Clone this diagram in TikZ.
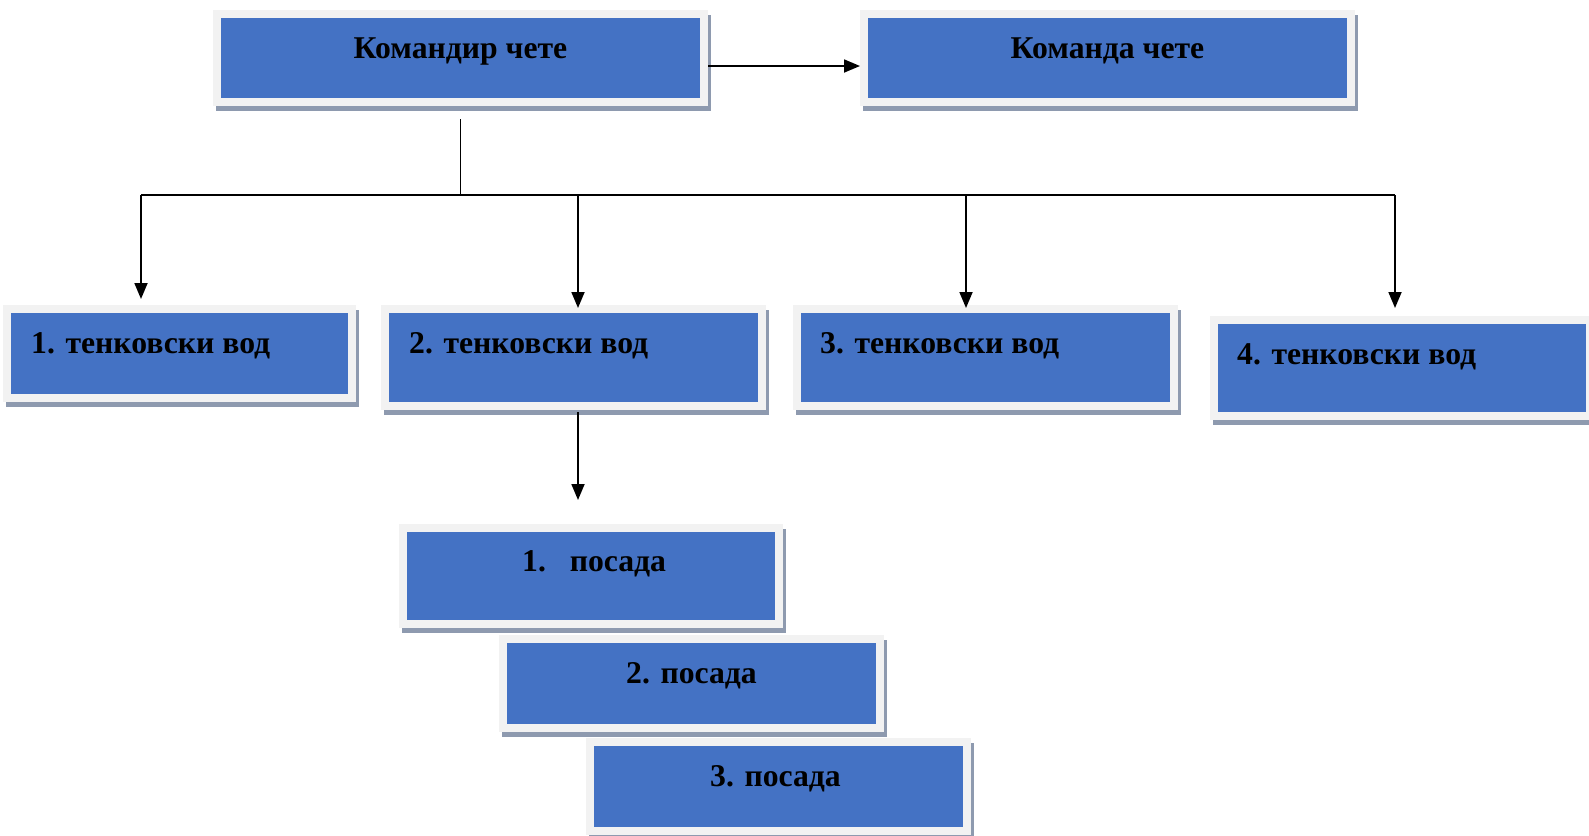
\documentclass[tikz,border=0pt]{standalone}
\usepackage{fontspec}
\setmainfont{Liberation Serif}
\usetikzlibrary{arrows.meta,shadows}
\definecolor{boxblue}{HTML}{4472C4}
\definecolor{boxrim}{HTML}{F2F2F2}
\definecolor{boxshade}{HTML}{8E9AAF}
\tikzset{
  unitbox/.style={rectangle, inner sep=0pt, fill=boxblue, draw=boxrim, line width=8pt,
    drop shadow={shadow xshift=3pt, shadow yshift=-5pt, fill=boxshade, draw=boxshade, line width=8pt, opacity=1}},
  lbl/.style={inner sep=0pt, font=\fontsize{31.7pt}{38pt}\selectfont\bfseries, text=black},
  conn/.style={line width=1.8pt, black},
  arr/.style={conn, -{Triangle[width=13pt,length=16pt]}}
}
\newcommand{\mkbox}[5]{% name, x1, y1, x2, y2 (blue area)
  \node[unitbox, minimum width={#4-#2+8}, minimum height={#5-#3+8}] (#1) at ({(#2+#4)/2},{(#3+#5)/2}) {};
}
\begin{document}
\begin{tikzpicture}[x=1pt,y=-1pt]
\useasboundingbox (0,0) rectangle (1589,835);
\mkbox{A}{221}{18}{700}{98}
\mkbox{B}{868}{18}{1347}{98}
\mkbox{V1}{11}{313}{348}{394}
\mkbox{V2}{389}{313}{758}{402}
\mkbox{V3}{801}{313}{1170}{402}
\mkbox{V4}{1218}{324}{1586}{412}
\mkbox{P1}{407}{532}{775}{620}
\mkbox{P2}{507}{643}{876}{724}
\mkbox{P3}{594}{746}{963}{827}

\node[lbl, anchor=base] (tA) at (460.5,58) {Командир чете};
\node[lbl, anchor=base] (tB) at (1107.5,58) {Команда чете};
\node[lbl, anchor=base west] (tV1) at (31,353) {1. тенковски вод};
\node[lbl, anchor=base west] (tV2) at (409,353) {2. тенковски вод};
\node[lbl, anchor=base west] (tV3) at (820,353) {3. тенковски вод};
\node[lbl, anchor=base west] (tV4) at (1237,364) {4. тенковски вод};
\node[lbl, anchor=base west] (tP1) at (522,571) {1.\hspace{0.75em}посада};
\node[lbl, anchor=base] (tP2) at (691.5,683) {2. посада};
\node[lbl, anchor=base west] (tP3) at (710,786) {3. посада};

% connectors
\draw[arr] ([yshift=-8pt]A.east) -- ([yshift=-8pt]B.west);
\coordinate (s0) at (460.5,119);
\coordinate (jA) at (460.5,195);
\coordinate (j1) at (141,195);
\coordinate (j2) at (578,195);
\coordinate (j3) at (966,195);
\coordinate (j4) at (1395,195);
\coordinate (d1) at (141,299);
\coordinate (d2) at (578,308);
\coordinate (d3) at (966,308);
\coordinate (d4) at (1395,308);
\draw[conn] (s0) -- (jA);
\draw[conn] (j1) -- (j4);
\draw[arr] (j1) -- (d1);
\draw[arr] (j2) -- (d2);
\draw[arr] (j3) -- (d3);
\draw[arr] (j4) -- (d4);
\coordinate (v2b) at (578,412);
\coordinate (p1t) at (578,500);
\draw[arr] (v2b) -- (p1t);
\end{tikzpicture}
\end{document}
